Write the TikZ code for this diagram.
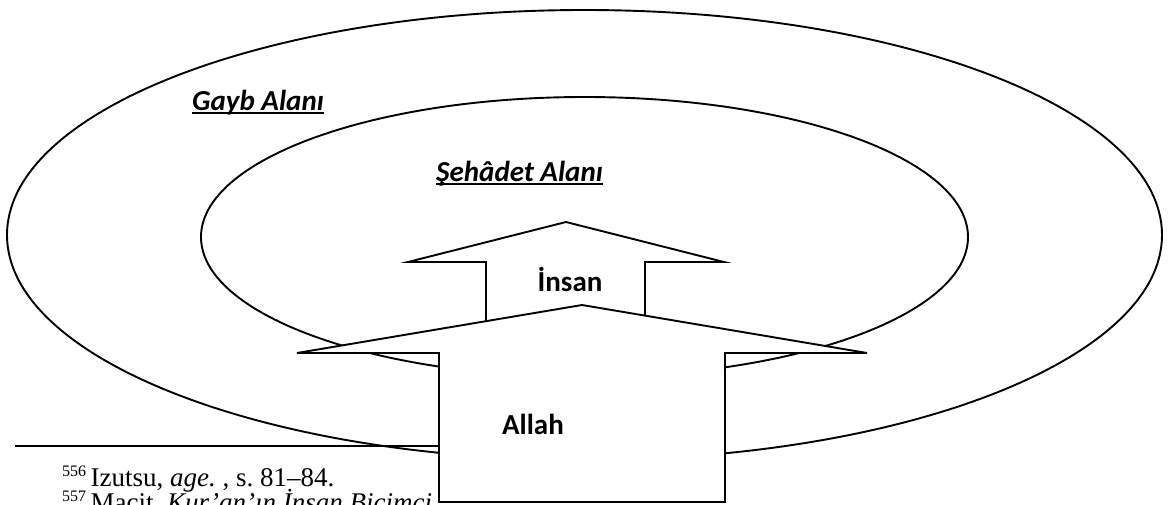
\documentclass[tikz,border=0pt]{standalone}
\usepackage{fontspec}
\setmainfont{Liberation Serif}
\newfontfamily\labelfont{Carlito}
\frenchspacing
\newcommand{\notemark}[1]{\raisebox{10pt}{\fontsize{16}{19}\selectfont #1}\,}
\begin{document}
\begin{tikzpicture}[x=1pt,y=-1pt,
  region/.style={draw, line width=1.9pt},
  arrowshape/.style={draw, fill=white, line width=1.9pt, line join=miter},
  zonelabel/.style={font=\labelfont\bfseries\itshape\fontsize{29}{34}\selectfont, inner sep=0pt, anchor=base west},
  zoneline/.style={line width=1.7pt},
  beinglabel/.style={font=\labelfont\bfseries\fontsize{29}{34}\selectfont, inner sep=0pt},
  note/.style={font=\fontsize{27}{32}\selectfont, inner sep=0pt, anchor=base west},
  noterule/.style={line width=1.8pt}]
\useasboundingbox (0,0) rectangle (1168,504);

% the two realms
\draw[region] (584.5,235) ellipse [x radius=577.5pt, y radius=225pt];
\draw[region] (584.5,237) ellipse [x radius=383.5pt, y radius=140pt];

% footnotes of the page
\coordinate (ruleL) at (15,446);
\coordinate (ruleR) at (480,446);
\draw[noterule] (ruleL) -- (ruleR);
\node[note] (fn1) at (62,486) {\notemark{556}Izutsu, \textit{age.} , s. 81–84.};
\node[note] (fn2) at (62,511) {\notemark{557}Macit, \textit{Kur’an’ın İnsan Biçimci}};

% arrow of man
\draw[arrowshape] (566,222) -- (724,262) -- (645,262) -- (645,345)
  -- (486,345) -- (486,262) -- (408,262) -- cycle;
% arrow of God
\draw[arrowshape] (582,305) -- (867,353) -- (725,353) -- (725,502)
  -- (439,502) -- (439,353) -- (297,353) -- cycle;

% labels
\node[beinglabel] (insan) at (570,279) {İnsan};
\node[beinglabel] (allah) at (533,424) {Allah};
\node[zonelabel] (gayb) at (192,110) {Gayb Alanı};
\node[zonelabel] (sehadet) at (436,181) {Şehâdet Alanı};
\draw[zoneline] ([yshift=-3pt]gayb.base west) -- ([yshift=-3pt]gayb.base east);
\draw[zoneline] ([yshift=-3pt]sehadet.base west) -- ([yshift=-3pt]sehadet.base east);
\end{tikzpicture}
\end{document}
